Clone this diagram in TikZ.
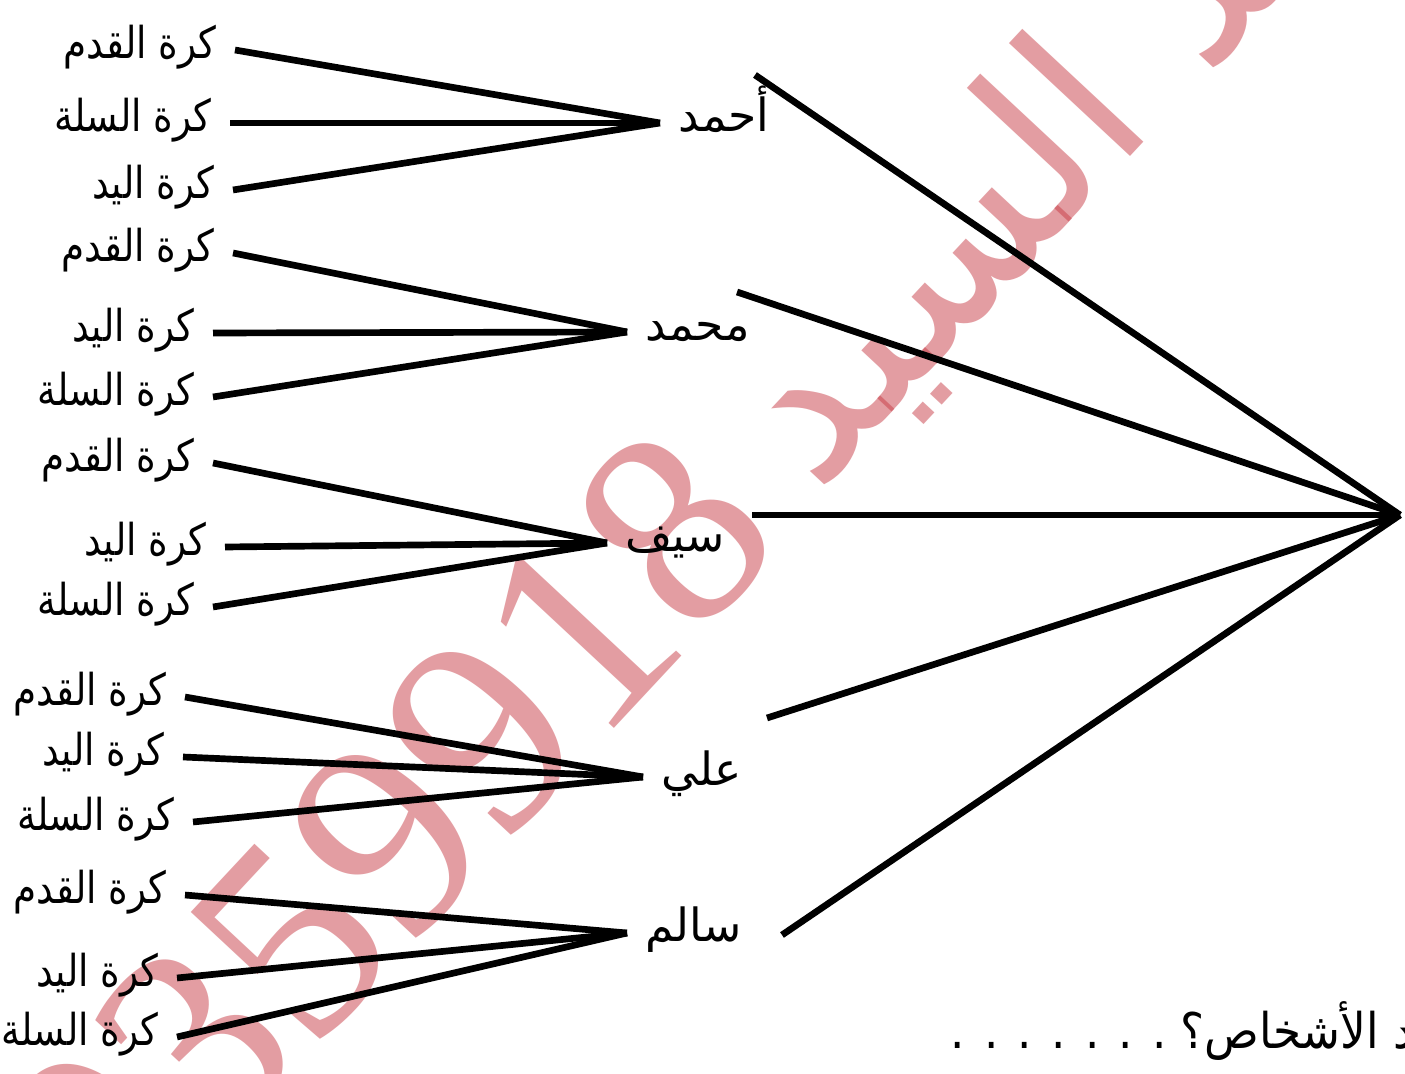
\documentclass[tikz,border=0pt]{standalone}
\usepackage{fontspec}
\setmainfont{Liberation Serif}
\newfontfamily\arabicfont[Script=Arabic]{DejaVu Sans}
\TeXXeTstate=1
\usetikzlibrary{positioning}
\definecolor{wmark}{RGB}{200,60,70}
\newcommand{\artext}[1]{\beginR #1\endR}
\newcommand{\narrow}[1]{\scalebox{.85}[1]{\beginR #1\endR}}
\tikzset{
  branch/.style={line width=1.9pt},
  sport/.style={font=\arabicfont\fontsize{12.5}{12.5}\selectfont,anchor=mid east,inner xsep=5pt},
  person/.style={font=\arabicfont\fontsize{13}{13}\selectfont,anchor=mid west,inner xsep=5pt},
  wm/.style={text=wmark,text opacity=.5,inner sep=0pt,rotate=47}
}

\begin{document}
\begin{tikzpicture}[x=0.1mm,y=-0.1mm]
  \useasboundingbox (0,0) rectangle (1405,1074);
  \fill[white] (0,0) rectangle (1405,1074);
  \node[wm,anchor=base east,font=\fontsize{80}{80}\selectfont] (num) at (790,540) {0359918};
  \node[wm,anchor=base west,font=\arabicfont\fontsize{62}{62}\selectfont] (name) at (815,495) {\artext{محمد السيد}};
  \coordinate (root) at (1400,515);
  \node[person] (p1) at (660,123) {\artext{أحمد}};
  \node[person] (p2) at (627,332) {\artext{محمد}};
  \node[person] (p3) at (607,543) {\artext{سيف}};
  \node[person] (p4) at (643,777) {\artext{علي}};
  \node[person] (p5) at (627,933) {\artext{سالم}};
  \coordinate (t1) at (755,75);
  \coordinate (t2) at (737,292);
  \coordinate (t3) at (752,515);
  \coordinate (t4) at (767,718);
  \coordinate (t5) at (782,935);
  \node[sport] (s11) at (235,50) {\narrow{كرة القدم}};
  \node[sport] (s12) at (230,123) {\narrow{كرة السلة}};
  \node[sport] (s13) at (233,190) {\narrow{كرة اليد}};
  \node[sport] (s21) at (233,253) {\narrow{كرة القدم}};
  \node[sport] (s22) at (213,333) {\narrow{كرة اليد}};
  \node[sport] (s23) at (213,397) {\narrow{كرة السلة}};
  \node[sport] (s31) at (213,463) {\narrow{كرة القدم}};
  \node[sport] (s32) at (225,547) {\narrow{كرة اليد}};
  \node[sport] (s33) at (213,607) {\narrow{كرة السلة}};
  \node[sport] (s41) at (185,697) {\narrow{كرة القدم}};
  \node[sport] (s42) at (183,757) {\narrow{كرة اليد}};
  \node[sport] (s43) at (193,822) {\narrow{كرة السلة}};
  \node[sport] (s51) at (185,895) {\narrow{كرة القدم}};
  \node[sport] (s52) at (177,978) {\narrow{كرة اليد}};
  \node[sport] (s53) at (177,1037) {\narrow{كرة السلة}};
  \foreach \i in {1,...,5}{
    \draw[branch] (t\i) -- (root);
    \foreach \j in {1,2,3}
      \draw[branch] (s\i\j.mid east) -- (p\i.mid west);
  }
  \node[anchor=base west,font=\arabicfont\fontsize{14}{14}\selectfont,inner sep=0pt] (ask) at (950,1048) {\scalebox{.92}[1]{\artext{عدد الأشخاص؟ . . . . . . .}}};
\end{tikzpicture}
\end{document}
